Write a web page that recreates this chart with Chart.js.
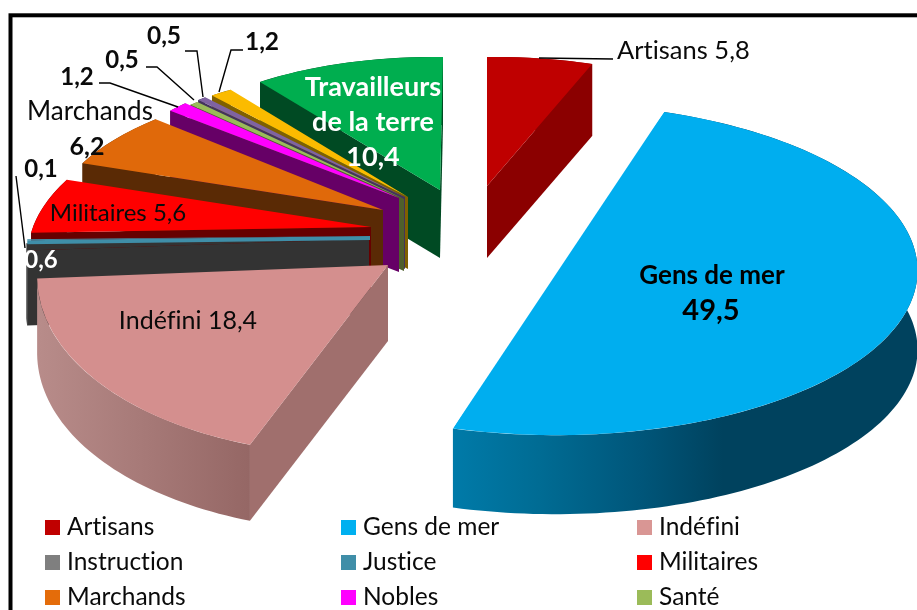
<!DOCTYPE html>
<html><head><meta charset="utf-8">
<style>html,body{margin:0;padding:0;background:#fff;overflow:hidden}canvas{display:block}</style>
<script src="https://cdn.jsdelivr.net/npm/chart.js@4/dist/chart.umd.min.js"></script>
</head><body>
<div style="width:917px;height:610px"><canvas id="c" width="917" height="610"></canvas></div>
<script>
const categories = ['Artisans','Gens de mer','Indéfini','Instruction','Justice','Militaires','Marchands','Nobles','Santé','','','Travailleurs de la terre'];
const values = [5.8,49.5,18.4,0.6,0.1,5.6,6.2,1.2,0.5,0.5,1.2,10.4];
const legendColors = ['#c00000','#00b0f0','#d99694','#7f7f7f','#3f8ea8','#ff0000','#e46c0a','#ff00ff','#9bbb59'];
const topColors = ['#bf0000','#00aeef','#d48f8e','#333333','#3f8ea8','#ff0000','#e0690a','#ff00ff','#9bbb59','#7f63a1','#fbbb00','#00ae4f'];
const wallColors = ['#8b0000',null,null,'#333333','#3f8ea8','#660000','#5a2a05','#660066','#4f5f2c','#43345a','#7f6000','#004a23'];
const faceColors = ['#8b0000','#00516f','#a06f6d','#333333','#3f8ea8','#660000','#5a2a05','#660066','#4f5f2c','#43345a','#7f6000','#004a23'];
// screen placement of each exploded wedge: apex + 2x2 projection of the unit circle + extrusion
const frames = [
 {ax:487,ay:186,m:[295,0,-4,129],depth:72},
 {ax:553,ay:269.5,m:[364,20,-8,165.5],depth:79},
 {ax:388,ay:265,m:[350,-25,2,191],depth:76},
 {ax:369,ay:239,m:[343,0,4,190],depth:75},
 {ax:370,ay:236,m:[343,0,4,190],depth:4},
 {ax:371,ay:227,m:[338,-56,0,153],depth:75},
 {ax:383,ay:210,m:[327,-34,6,133],depth:62},
 {ax:399,ay:198,m:[300,0,0,135],depth:74},
 {ax:404,ay:199,m:[300,0,4,130],depth:72},
 {ax:405,ay:197,m:[300,0,4,130],depth:72},
 {ax:408,ay:197,m:[310,-14,8,129],depth:72},
 {ax:440,ay:190,m:[300,-3,4,133],depth:68}
];
const drawOrder = [0,11,10,9,8,7,6,5,3,4,2,1];
const wallGradients = {
 1:{x0:455,x1:917,stops:[[0,'#007aa8'],[0.18,'#006c94'],[0.4,'#00567a'],[0.58,'#00425e'],[1,'#00425e']]},
 2:{x0:37,x1:250,stops:[[0,'#b88c8a'],[1,'#956765']]}
};
const chordClip = [1];
const fmt = v => v.toFixed(1).replace('.',',');
const FONT = 'Lato, "Open Sans", sans-serif';
const INK = '#0a0a0a';
const labelSpecs = [
 {t:'Artisans '+fmt(values[0]),x:617,y:51,s:25.5,b:0,c:INK,a:'left'},
 {t:'Gens de mer',x:712,y:276,s:26,b:1,c:'#000',a:'center'},
 {t:fmt(values[1]),x:711,y:311,s:29,b:1,c:'#000',a:'center'},
 {t:'Indéfini '+fmt(values[2]),x:188,y:321,s:25,b:0,c:INK,a:'center'},
 {t:fmt(values[3]),x:41,y:260,s:24,b:1,c:'#fff',a:'center'},
 {t:fmt(values[4]),x:41,y:169,s:24,b:1,c:INK,a:'center'},
 {t:'Militaires '+fmt(values[5]),x:118,y:213,s:24,b:0,c:INK,a:'center'},
 {t:'Marchands',x:90,y:112,s:26,b:0,c:INK,a:'center'},
 {t:fmt(values[6]),x:87,y:147,s:25,b:1,c:INK,a:'center'},
 {t:fmt(values[7]),x:77,y:77,s:24,b:1,c:INK,a:'center'},
 {t:fmt(values[8]),x:122,y:60,s:24,b:1,c:INK,a:'center'},
 {t:fmt(values[9]),x:164,y:36,s:24.5,b:1,c:INK,a:'center'},
 {t:fmt(values[10]),x:262,y:42,s:24.5,b:1,c:INK,a:'center'},
 {t:'Travailleurs',x:373,y:87,s:27,b:1,c:'#fff',a:'center'},
 {t:'de la terre',x:373,y:122,s:27,b:1,c:'#fff',a:'center'},
 {t:fmt(values[11]),x:373,y:157,s:27,b:1,c:'#fff',a:'center'}
];
const leaders = [
 [[539,58],[613,59]],
 [[16,176],[25,248]],
 [[99,83],[110,83],[178,107]],
 [[146,67],[157,67],[194,100]],
 [[185,51],[197,51],[203,97]],
 [[243,50],[231,50],[219,92]]
];
const legendCols = [45,341,637], legendRows = [527.5,562.5,597.5];

const pie3d = {
 id:'pie3d',
 beforeDraw(chart){
  const ctx=chart.ctx; ctx.save();
  ctx.fillStyle='#fff'; ctx.fillRect(0,0,chart.width,chart.height);
  ctx.strokeStyle='#000'; ctx.lineWidth=4; ctx.strokeRect(10.5,15.3,1200,1200);
  ctx.restore();
 },
 beforeDatasetsDraw(chart){
  const ctx=chart.ctx, arcs=chart.getDatasetMeta(0).data;
  for(const i of drawOrder){
   const arc=arcs[i], f=frames[i], [ma,mb,mc,md]=f.m;
   const R=arc.outerRadius, s=arc.startAngle, e=arc.endAngle;
   const pt=(th,dz=0)=>[f.ax+ma*Math.cos(th)+mb*Math.sin(th), f.ay+mc*Math.cos(th)+md*Math.sin(th)+dz];
   const A=[f.ax,f.ay], P0=pt(s), P1=pt(e), Mid=pt((s+e)/2);
   ctx.save();
   const g=wallGradients[i];
   if(g){const lg=ctx.createLinearGradient(g.x0,0,g.x1,0);g.stops.forEach(t=>lg.addColorStop(t[0],t[1]));ctx.fillStyle=lg;}
   else ctx.fillStyle=wallColors[i];
   ctx.beginPath();
   const N=Math.max(8,Math.ceil((e-s)*40));
   for(let k=0;k<=N;k++){const p=pt(s+(e-s)*k/N);k?ctx.lineTo(p[0],p[1]):ctx.moveTo(p[0],p[1]);}
   for(let k=N;k>=0;k--){const p=pt(s+(e-s)*k/N,f.depth);ctx.lineTo(p[0],p[1]);}
   ctx.closePath();ctx.fill();
   const cross=(u,v)=>u[0]*v[1]-u[1]*v[0];
   for(const E of [P0,P1]){
    const ed=[E[0]-A[0],E[1]-A[1]], md2=[Mid[0]-A[0],Mid[1]-A[1]];
    if(Math.sign(cross(ed,[0,1]))!==Math.sign(cross(ed,md2))){
     ctx.fillStyle=faceColors[i];
     ctx.beginPath();ctx.moveTo(A[0],A[1]);ctx.lineTo(E[0],E[1]);ctx.lineTo(E[0],E[1]+f.depth);ctx.lineTo(A[0],A[1]+f.depth);ctx.closePath();ctx.fill();
    }
   }
   ctx.restore();
   ctx.save();
   // the half-pie's edge reads as one straight line in the picture
   if(chordClip.includes(i)){
    ctx.beginPath();ctx.moveTo(P0[0],P0[1]);ctx.lineTo(P1[0],P1[1]);ctx.lineTo(P1[0],P1[1]+400);ctx.lineTo(P1[0]+2000,P1[1]+400);ctx.lineTo(P0[0]+2000,P0[1]);ctx.closePath();ctx.clip();
   }
   const ex=ma*arc.x/R+mb*arc.y/R, ey=mc*arc.x/R+md*arc.y/R;
   ctx.transform(ma/R,mc/R,mb/R,md/R,f.ax-ex,f.ay-ey);
   arc.draw(ctx);
   ctx.restore();
  }
  return false;
 },
 afterDraw(chart){
  const ctx=chart.ctx; ctx.save();
  ctx.beginPath();ctx.rect(0,0,chart.width,chart.height);ctx.clip();
  ctx.strokeStyle='#000'; ctx.lineWidth=1.4;
  for(const l of leaders){ctx.beginPath();l.forEach((p,k)=>k?ctx.lineTo(p[0],p[1]):ctx.moveTo(p[0],p[1]));ctx.stroke();}
  ctx.textBaseline='middle';
  if('letterSpacing' in ctx) ctx.letterSpacing='0.01px';
  for(const l of labelSpecs){
   ctx.font=(l.b?'bold ':'')+l.s+'px '+FONT; ctx.fillStyle=l.c; ctx.textAlign=l.a;
   ctx.fillText(l.t,l.x,l.y);
  }
  ctx.font='24.5px '+FONT; ctx.textAlign='left';
  for(let i=0;i<9;i++){
   const x=legendCols[i%3], y=legendRows[Math.floor(i/3)];
   ctx.fillStyle=legendColors[i]; ctx.fillRect(x,y-7.5,15,15);
   ctx.fillStyle=INK; ctx.fillText(categories[i],x+22,y);
  }
  ctx.restore();
 }
};
new Chart(document.getElementById('c'),{
 type:'pie',
 data:{labels:categories,datasets:[{data:values,backgroundColor:topColors,borderWidth:0}]},
 options:{responsive:false,animation:false,rotation:0,
  plugins:{legend:{display:false},tooltip:{enabled:false}}},
 plugins:[pie3d]
});
</script>
</body></html>
